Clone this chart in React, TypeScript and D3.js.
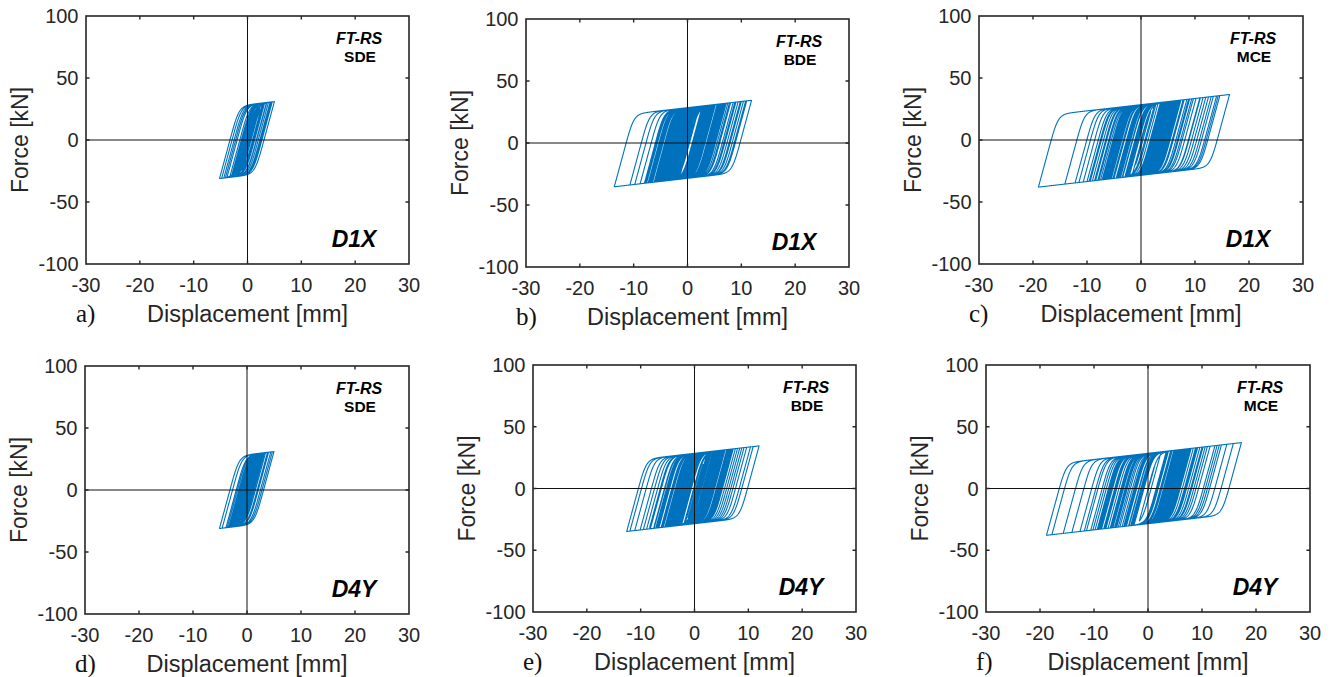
import { useEffect, useRef } from 'react';
import * as d3 from 'd3';

const xTicks = [-30, -20, -10, 0, 10, 20, 30];
const yTicks = [-100, -50, 0, 50, 100];

const panelLetters = ['a)', 'b)', 'c)', 'd)', 'e)', 'f)'];
const isolatorName = 'FT-RS';
const levels = ['SDE', 'BDE', 'MCE', 'SDE', 'BDE', 'MCE'];
const directions = ['D1X', 'D1X', 'D1X', 'D4Y', 'D4Y', 'D4Y'];

// displacement reversal points [mm]
const peaksA = [0, 2.0, -1.5, 3.5, -2.5, 5.0, -3.0, 4.6, -5.2, 2.5, -4.8, 3.9, -2.0, 4.2, -4.4, 1.5, -3.8, 3.0,
  -1.0, 2.6, -3.3, 4.4, -2.2, 1.8, -4.1, 3.2, -1.6, 2.2, -2.8, 1.2, -2.4, 3.6, -1.2, 1.6, -3.0, 2.8, -0.8, 1.0,
  -1.8, 2.4, -1.4, 1.4, -2.6, 2.0, -1.1, 1.7, -2.1, 1.3, -0.9, 2.3, -1.9, 1.1, -2.5, 1.9, -1.3, 0.9, -1.7, 1.5,
  -0.7, 1.2, -1.5, 0.8, -0.6, 0.8, -1.0, 0.5, 0];
const peaksB = [0, 4.0, -3.0, 6.5, -5.0, 9.0, -4.0, 7.5, -8.8, 5.5, -6.0, 11.9, -2.5, 10.4, -7.6, 8.0, -13.6, 3.0,
  -10.7, 6.0, -4.5, 9.4, -6.7, 4.5, -9.8, 7.0, -3.5, 11.0, -5.5, 8.5, -2.0, 10.0, -7.0, 5.0, -4.0, 9.8, -6.2, 6.8,
  -8.0, 3.5, -5.2, 7.8, -3.0, 10.8, -4.8, 6.2, -7.3, 5.8, -2.8, 8.8, -5.8, 4.2, -6.5, 7.2, -1.8, 9.0, -4.2, 5.2,
  -7.8, 4.0, -5.0, 6.4, -3.6, 7.0, -6.8, 3.8, -4.4, 5.6, -2.4, 6.0, -5.4, 4.6, -7.2, 3.4, -3.0, 5.0, -4.6, 2.8,
  -6.0, 4.4, -1.6, 3.6, -3.4, 2.2, -5.6, 3.0, -2.6, 4.8, -3.2, 6.6, -2.2, 4.8, -3.8, 3.2, -1.5, 2.6, -2.0, 1.8,
  -0.8, 1.0, 0];
const peaksC = [0, 5.0, -4.0, 8.5, -6.0, 12.5, -3.5, 10.9, -9.4, 6.6, -19.0, 4.0, -12.2, 16.4, -5.0, 14.6, -7.5,
  9.7, -14.1, 5.4, -10.7, 14.0, -4.5, 8.0, -8.4, 13.4, -6.8, 11.5, -3.0, 7.2, -11.5, 9.0, -5.5, 14.3, -2.5, 6.0,
  -9.0, 12.0, -7.0, 4.8, -8.0, 10.2, -4.2, 13.0, -6.2, 7.8, -3.8, 8.8, -10.0, 6.4, -5.8, 11.0, -2.8, 5.6, -7.2,
  9.4, -4.6, 6.8, -8.6, 4.2, -6.4, 5.2, -3.4, 7.4, -7.8, 3.6, -5.2, 6.2, -2.2, 4.4, -6.6, 3.2, -4.0, 5.8, -9.6,
  4.6, -3.0, 3.8, -5.6, 2.6, -4.4, 7.0, -2.6, 4.6, -5.0, 3.6, -2.4, 2.8, -1.6, 1.8, -1.0, 0];
const peaksD = [0, 1.8, -1.6, 3.0, -2.8, 5.0, -3.4, 4.7, -5.1, 2.2, -4.6, 4.0, -2.4, 4.4, -3.9, 1.2, -3.6, 2.8,
  -1.4, 3.4, -3.0, 1.6, -2.6, 3.8, -1.8, 2.0, -3.2, 2.6, -1.0, 1.4, -2.2, 3.2, -1.2, 1.0, -2.0, 2.4, -0.8, 1.8,
  -2.7, 1.5, -3.1, 2.1, -1.6, 1.3, -2.4, 2.9, -1.9, 1.1, -2.9, 1.7, -1.3, 0.9, -2.3, 1.9, -1.7, 1.0, -2.0, 1.4,
  -1.5, 1.2, -0.6, 0.8, -0.4, 0];
const peaksE = [0, 3.5, -3.0, 6.0, -5.5, 8.8, -4.0, 12.0, -8.9, 5.0, -12.6, 7.2, -3.5, 9.7, -7.5, 4.5, -12.0, 6.6,
  -6.0, 10.9, -2.5, 8.0, -11.1, 5.7, -4.8, 9.2, -10.1, 3.8, -6.8, 7.6, -2.0, 6.2, -8.2, 10.4, -5.2, 4.2, -9.5,
  7.0, -3.2, 8.4, -7.0, 5.4, -5.8, 6.8, -2.6, 4.8, -4.4, 3.0, -6.2, 5.2, -7.6, 3.6, -4.6, 5.6, -3.4, 4.0, -8.4,
  3.2, -5.0, 6.4, -2.8, 3.8, -6.6, 2.6, -4.2, 4.6, -7.2, 3.0, -3.8, 5.0, -5.4, 2.8, -2.4, 4.4, -1.8, 3.4, -3.6,
  2.4, -1.2, 1.6, -0.6, 0];
const peaksF = [0, 4.5, -3.5, 7.8, -6.0, 10.6, -4.5, 13.6, -9.0, 6.0, -14.1, 9.0, -18.8, 5.0, -11.4, 17.3, -6.5,
  12.4, -17.8, 7.0, -8.0, 15.8, -4.0, 11.5, -12.6, 8.4, -15.7, 6.4, -5.5, 14.6, -9.8, 10.0, -3.0, 12.8, -7.4,
  5.6, -10.6, 9.6, -6.8, 13.2, -4.8, 7.4, -8.6, 11.0, -2.6, 8.8, -11.8, 6.8, -5.2, 10.2, -7.8, 4.2, -9.2, 8.0,
  -3.6, 6.2, -10.2, 5.4, -6.6, 7.6, -4.4, 9.2, -8.2, 4.8, -5.8, 6.6, -3.2, 5.2, -9.4, 3.8, -7.0, 8.4, -2.8,
  4.4, -6.2, 5.8, -8.8, 3.4, -4.0, 7.2, -5.2, 5.0, -4.2, 3.6, -2.8, 2.4, -1.6, 1.2, 0];

const peakSets = [peaksA, peaksB, peaksC, peaksD, peaksE, peaksF];

// isolator law fitted to the loops (kN, mm)
const K1 = 16;
const K2 = 0.5;
const QD = 28.5;
const SHARPNESS = 3;

// frame of each subplot on the page
const frames = [
  { x: 86, y: 16, w: 323, h: 248 },
  { x: 526, y: 19, w: 323, h: 248 },
  { x: 979, y: 16, w: 324, h: 248 },
  { x: 85, y: 366, w: 324, h: 248 },
  { x: 533, y: 365, w: 323, h: 247 },
  { x: 986, y: 365, w: 324, h: 247 },
];

const FONT = '"Liberation Sans", Arial, Helvetica, sans-serif';
const INK = '#262626';
const LOOP = '#0072bd';

function traceLoops(peaks) {
  const uy = QD / (K1 - K2);
  const step = 0.04;
  const rate = (z, dx) =>
    (1 - Math.pow(Math.abs(z), SHARPNESS) * (0.5 + 0.5 * Math.sign(dx * z))) / uy;
  let x = peaks[0];
  let z = 0;
  const points = [[x, 0]];
  for (let i = 1; i < peaks.length; i++) {
    const target = peaks[i];
    const dir = Math.sign(target - x);
    while ((target - x) * dir > 1e-9) {
      const dx = dir * Math.min(step, Math.abs(target - x));
      const zm = z + (rate(z, dx) * dx) / 2;
      z += rate(zm, dx) * dx;
      x += dx;
      points.push([x, K2 * x + QD * z]);
    }
  }
  return points;
}

function drawPanel(svg, i) {
  const f = frames[i];
  const x = d3.scaleLinear().domain([-30, 30]).range([f.x, f.x + f.w]);
  const y = d3.scaleLinear().domain([-100, 100]).range([f.y + f.h, f.y]);
  const g = svg.append('g');

  g.append('path')
    .datum(traceLoops(peakSets[i]))
    .attr('d', d3.line().x((d) => x(d[0])).y((d) => y(d[1])))
    .attr('fill', 'none')
    .attr('stroke', LOOP)
    .attr('stroke-width', 1.1)
    .attr('stroke-linejoin', 'round');

  // zero lines
  g.append('line')
    .attr('x1', x(-30)).attr('x2', x(30))
    .attr('y1', y(0)).attr('y2', y(0))
    .attr('stroke', '#111').attr('stroke-width', 1);
  g.append('line')
    .attr('x1', x(0)).attr('x2', x(0))
    .attr('y1', y(-100)).attr('y2', y(100))
    .attr('stroke', '#111').attr('stroke-width', 1);

  // box with inward ticks on all sides
  g.append('rect')
    .attr('x', f.x).attr('y', f.y).attr('width', f.w).attr('height', f.h)
    .attr('fill', 'none').attr('stroke', INK).attr('stroke-width', 1.6);

  const tickLen = 3.5;
  g.selectAll('.xt')
    .data(xTicks.slice(1, -1))
    .join('path')
    .attr('d', (t) => `M${x(t)},${f.y + f.h}v${-tickLen}M${x(t)},${f.y}v${tickLen}`)
    .attr('stroke', INK).attr('stroke-width', 1.4);
  g.selectAll('.yt')
    .data(yTicks.slice(1, -1))
    .join('path')
    .attr('d', (t) => `M${f.x},${y(t)}h${tickLen}M${f.x + f.w},${y(t)}h${-tickLen}`)
    .attr('stroke', INK).attr('stroke-width', 1.4);

  g.selectAll('.xl')
    .data(xTicks)
    .join('text')
    .attr('x', (t) => x(t))
    .attr('y', f.y + f.h + 28)
    .attr('text-anchor', 'middle')
    .attr('font-family', FONT).attr('font-size', 20).attr('fill', INK)
    .text((t) => String(t));
  g.selectAll('.yl')
    .data(yTicks)
    .join('text')
    .attr('x', f.x - 7.5)
    .attr('y', (t) => y(t) + 7)
    .attr('text-anchor', 'end')
    .attr('font-family', FONT).attr('font-size', 20).attr('fill', INK)
    .text((t) => String(t));

  g.append('text')
    .attr('x', f.x + f.w / 2)
    .attr('y', f.y + f.h + 58)
    .attr('text-anchor', 'middle')
    .attr('font-family', FONT).attr('font-size', 23.5).attr('fill', INK)
    .text('Displacement [mm]');
  g.append('text')
    .attr('transform', `translate(${f.x - 58},${f.y + f.h / 2}) rotate(-90)`)
    .attr('text-anchor', 'middle')
    .attr('font-family', FONT).attr('font-size', 23).attr('fill', INK)
    .text('Force [kN]');

  g.append('text')
    .attr('x', f.x - 10)
    .attr('y', f.y + f.h + 58)
    .attr('font-family', '"Liberation Serif", "Times New Roman", serif')
    .attr('font-size', 25).attr('fill', '#111')
    .text(panelLetters[i]);

  g.append('text')
    .attr('x', f.x + f.w - 50)
    .attr('y', f.y + 28)
    .attr('text-anchor', 'middle')
    .attr('font-family', FONT).attr('font-size', 16)
    .attr('font-weight', 'bold').attr('font-style', 'italic').attr('fill', '#000')
    .text(isolatorName);
  g.append('text')
    .attr('x', f.x + f.w - 49)
    .attr('y', f.y + 46)
    .attr('text-anchor', 'middle')
    .attr('font-family', FONT).attr('font-size', 15.5)
    .attr('font-weight', 'bold').attr('fill', '#000')
    .text(levels[i]);
  g.append('text')
    .attr('x', f.x + f.w - 55)
    .attr('y', f.y + f.h - 17)
    .attr('text-anchor', 'middle')
    .attr('font-family', FONT).attr('font-size', 23)
    .attr('font-weight', 'bold').attr('font-style', 'italic').attr('fill', '#000')
    .text(directions[i]);
}

export default function App() {
  const ref = useRef(null);

  useEffect(() => {
    const svg = d3.select(ref.current);
    svg.selectAll('*').remove();
    frames.forEach((_, i) => drawPanel(svg, i));
  }, []);

  return (
    <svg
      ref={ref}
      width={1332}
      height={677}
      viewBox="0 0 1332 677"
      style={{ position: 'absolute', left: 0, top: 0, background: '#fff' }}
    />
  );
}
